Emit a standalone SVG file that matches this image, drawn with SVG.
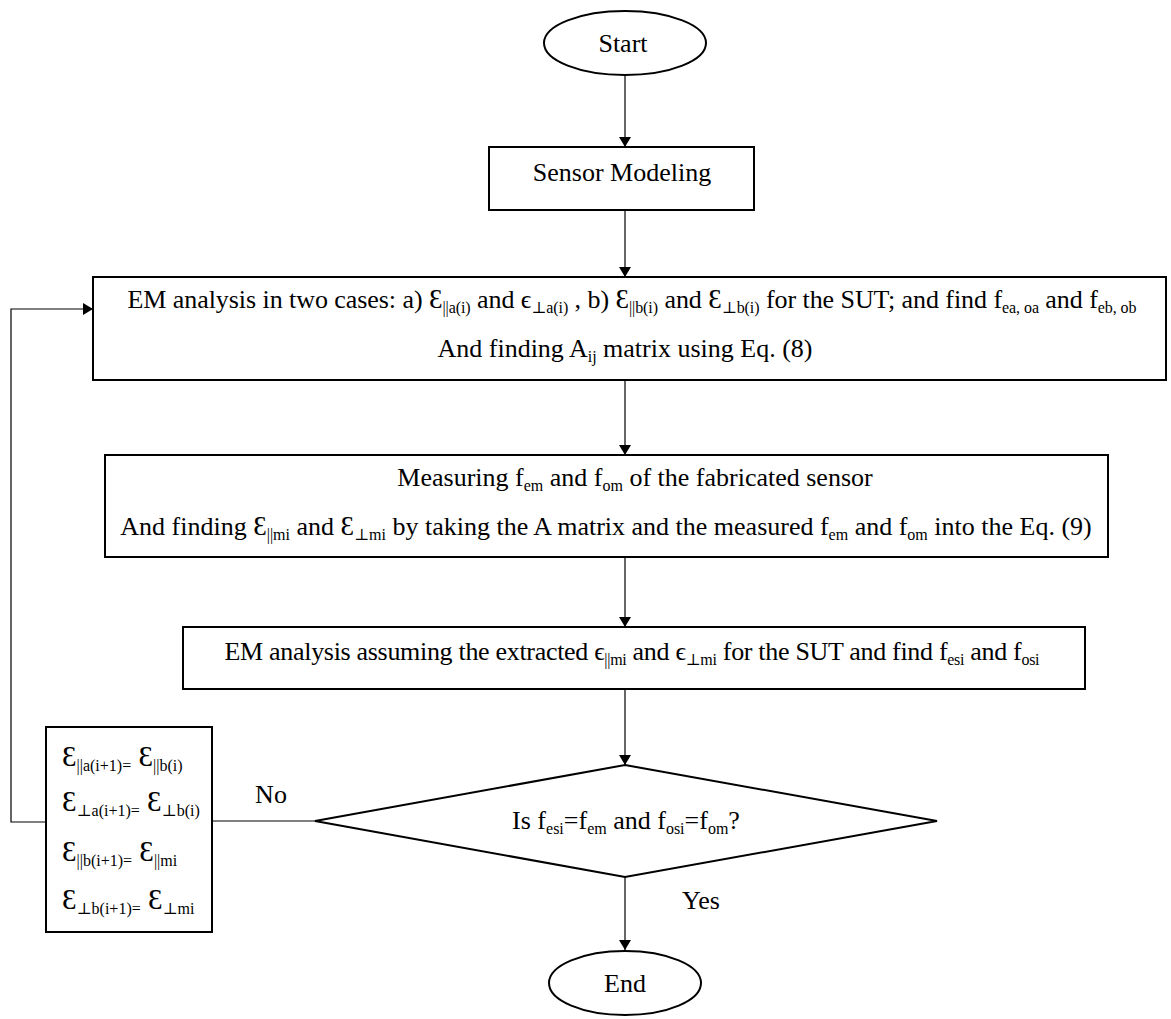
<svg xmlns="http://www.w3.org/2000/svg" width="1171" height="1019" viewBox="0 0 1171 1019">
<style>
.t{font-family:"Liberation Serif","DejaVu Serif",serif;font-size:26px;fill:#000}
.s{font-size:16px}
.e{font-size:27px}
.el{font-size:29px}
.box{fill:#fff;stroke:#000;stroke-width:2}
.c{fill:none;stroke:#000;stroke-width:1.2}
</style>
<defs>
<marker id="ah" viewBox="0 0 10 12" refX="10" refY="6" markerWidth="10" markerHeight="12" markerUnits="userSpaceOnUse" orient="auto">
<path d="M0,0 L10,6 L0,12 z" fill="#000"/>
</marker>
</defs>
<rect width="1171" height="1019" fill="#fff"/>
<g id="connectors">
<line class="c" x1="625" y1="75" x2="625" y2="147" marker-end="url(#ah)"/>
<line class="c" x1="625" y1="210" x2="625" y2="277" marker-end="url(#ah)"/>
<line class="c" x1="625" y1="380" x2="625" y2="455" marker-end="url(#ah)"/>
<line class="c" x1="625" y1="557" x2="625" y2="627" marker-end="url(#ah)"/>
<line class="c" x1="625" y1="689" x2="625" y2="765" marker-end="url(#ah)"/>
<line class="c" x1="625" y1="877" x2="625" y2="950" marker-end="url(#ah)"/>
<line class="c" x1="315" y1="821" x2="212" y2="821"/>
<polyline class="c" points="46,822 11,822 11,309 93,309" marker-end="url(#ah)"/>
<text class="t" x="271" y="803" text-anchor="middle">No</text>
<text class="t" x="701" y="909" text-anchor="middle">Yes</text>
</g>
<g id="start">
<ellipse class="box" cx="625" cy="43" rx="81" ry="32"/>
<text class="t" x="623" y="52" text-anchor="middle">Start</text>
</g>
<g id="sensor-modeling">
<rect class="box" x="489" y="147" width="265" height="63"/>
<text class="t" x="622" y="181" text-anchor="middle">Sensor Modeling</text>
</g>
<g id="em-analysis">
<rect class="box" x="93" y="277" width="1073" height="103"/>
<text class="t" x="632" y="308" text-anchor="middle" textLength="1009" lengthAdjust="spacing">EM analysis in two cases: a) <tspan class="e">Ɛ</tspan><tspan class="s" dy="5">||a(i)</tspan><tspan dy="-5"> and ϵ</tspan><tspan class="s" dy="5">⊥a(i)</tspan><tspan dy="-5"> , b) </tspan><tspan class="e">Ɛ</tspan><tspan class="s" dy="5">||b(i)</tspan><tspan dy="-5"> and </tspan><tspan class="e">Ɛ</tspan><tspan class="s" dy="5">⊥b(i)</tspan><tspan dy="-5"> for the SUT; and find f</tspan><tspan class="s" dy="5">ea, oa</tspan><tspan dy="-5"> and  f</tspan><tspan class="s" dy="5">eb, ob</tspan></text>
<text class="t" x="625" y="357" text-anchor="middle">And finding A<tspan class="s" dy="5">ij</tspan><tspan dy="-5"> matrix using Eq. (8)</tspan></text>
</g>
<g id="measuring">
<rect class="box" x="105" y="455" width="1003" height="102"/>
<text class="t" x="635" y="486" text-anchor="middle">Measuring f<tspan class="s" dy="5">em</tspan><tspan dy="-5"> and f</tspan><tspan class="s" dy="5">om</tspan><tspan dy="-5"> of the fabricated sensor</tspan></text>
<text class="t" x="606" y="535" text-anchor="middle">And finding <tspan class="e">Ɛ</tspan><tspan class="s" dy="5">||mi</tspan><tspan dy="-5"> and </tspan><tspan class="e">Ɛ</tspan><tspan class="s" dy="5">⊥mi</tspan><tspan dy="-5"> by taking the A matrix and the measured f</tspan><tspan class="s" dy="5">em</tspan><tspan dy="-5"> and f</tspan><tspan class="s" dy="5">om</tspan><tspan dy="-5"> into the Eq. (9)</tspan></text>
</g>
<g id="em-analysis-extracted">
<rect class="box" x="183" y="627" width="902" height="62"/>
<text class="t" x="632" y="660" text-anchor="middle" textLength="815" lengthAdjust="spacing">EM analysis assuming the extracted ϵ<tspan class="s" dy="5">||mi</tspan><tspan dy="-5"> and ϵ</tspan><tspan class="s" dy="5">⊥mi</tspan><tspan dy="-5"> for the SUT and find f</tspan><tspan class="s" dy="5">esi</tspan><tspan dy="-5"> and f</tspan><tspan class="s" dy="5">osi</tspan></text>
</g>
<g id="decision">
<polygon class="box" points="625,765 937,821 625,877 315,821"/>
<text class="t" x="626" y="829" text-anchor="middle">Is f<tspan class="s" dy="5">esi</tspan><tspan dy="-5">=f</tspan><tspan class="s" dy="5">em</tspan><tspan dy="-5"> and f</tspan><tspan class="s" dy="5">osi</tspan><tspan dy="-5">=f</tspan><tspan class="s" dy="5">om</tspan><tspan dy="-5">?</tspan></text>
</g>
<g id="update">
<rect class="box" x="46" y="727" width="166" height="205"/>
<text class="t" x="62" y="766"><tspan class="el">Ɛ</tspan><tspan class="s" dy="5">||a(i+1)=</tspan><tspan class="el" dy="-5"> Ɛ</tspan><tspan class="s" dy="5">||b(i)</tspan></text>
<text class="t" x="62" y="811"><tspan class="el">Ɛ</tspan><tspan class="s" dy="5">⊥a(i+1)=</tspan><tspan class="el" dy="-5"> Ɛ</tspan><tspan class="s" dy="5">⊥b(i)</tspan></text>
<text class="t" x="62" y="861"><tspan class="el">Ɛ</tspan><tspan class="s" dy="5">||b(i+1)=</tspan><tspan class="el" dy="-5"> Ɛ</tspan><tspan class="s" dy="5">||mi</tspan></text>
<text class="t" x="62" y="909"><tspan class="el">Ɛ</tspan><tspan class="s" dy="5">⊥b(i+1)=</tspan><tspan class="el" dy="-5"> Ɛ</tspan><tspan class="s" dy="5">⊥mi</tspan></text>
</g>
<g id="end">
<ellipse class="box" cx="625" cy="983" rx="76" ry="32"/>
<text class="t" x="625" y="992" text-anchor="middle">End</text>
</g>
</svg>
